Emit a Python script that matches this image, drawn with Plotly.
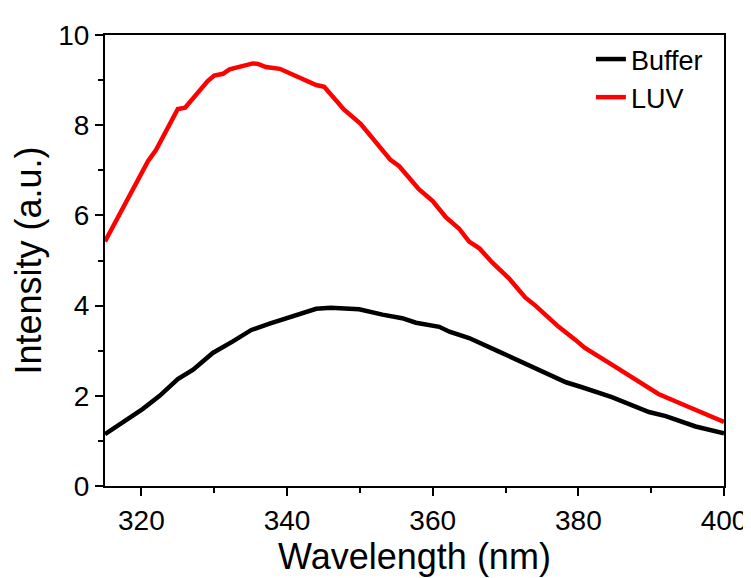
import plotly.graph_objects as go

# LUV (red) spectrum
luv_wl = [315.0, 318.8, 320.9, 322.0, 323.9, 325.0, 326.0, 328.0, 329.1, 330.0,
          331.2, 332.1, 333.9, 335.3, 336.0, 337.1, 339.0, 340.3, 342.1, 344.0,
          345.1, 346.2, 347.8, 350.1, 351.7, 353.1, 354.2, 355.4, 356.8, 358.1,
          360.0, 361.8, 363.6, 365.0, 366.4, 368.2, 370.5, 372.7, 374.1, 377.3,
          379.6, 380.9, 384.6, 388.7, 391.0, 394.6, 400.0]
luv_int = [5.42, 6.54, 7.20, 7.45, 8.00, 8.36, 8.39, 8.76, 8.98, 9.10,
           9.14, 9.24, 9.30, 9.37, 9.36, 9.29, 9.25, 9.16, 9.01, 8.89,
           8.85, 8.65, 8.35, 8.03, 7.71, 7.45, 7.23, 7.09, 6.83, 6.58,
           6.32, 5.96, 5.71, 5.42, 5.27, 4.95, 4.60, 4.18, 4.00, 3.53,
           3.24, 3.06, 2.69, 2.26, 2.04, 1.79, 1.42]

# Buffer (black) spectrum
buf_wl = [315.0, 317.5, 320.2, 322.5, 325.0, 327.1, 329.8, 332.5, 335.1, 337.6,
          340.3, 342.6, 344.0, 346.0, 349.9, 353.1, 355.8, 357.7, 360.9, 362.3,
          365.0, 369.1, 373.7, 378.3, 380.5, 384.6, 389.7, 392.0, 396.1, 400.0]
buf_int = [1.15, 1.42, 1.71, 2.00, 2.37, 2.58, 2.95, 3.20, 3.46, 3.60,
           3.75, 3.86, 3.93, 3.95, 3.92, 3.80, 3.72, 3.62, 3.53, 3.42,
           3.28, 2.98, 2.64, 2.30, 2.19, 1.97, 1.64, 1.55, 1.32, 1.17]

x_ticks = [320, 340, 360, 380, 400]
y_ticks = [0, 2, 4, 6, 8, 10]

FONT = "Arial, Liberation Sans, sans-serif"

fig = go.Figure()
fig.add_trace(go.Scatter(x=buf_wl, y=buf_int, mode="lines", name="Buffer",
                         line=dict(color="#000000", width=4.5)))
fig.add_trace(go.Scatter(x=luv_wl, y=luv_int, mode="lines", name="LUV",
                         line=dict(color="#ff0000", width=4.5)))

axis_common = dict(
    showline=True, linecolor="black", linewidth=2, mirror=True,
    ticks="outside", ticklen=8, tickwidth=2, tickcolor="black",
    showgrid=False, zeroline=False,
    tickfont=dict(family=FONT, size=28, color="black"),
)

fig.update_layout(
    width=751, height=578,
    margin=dict(l=97, r=34, t=19, b=100),
    paper_bgcolor="white", plot_bgcolor="white",
    font=dict(family=FONT, color="black"),
    showlegend=True,
    legend=dict(x=0.785, y=1.0, xanchor="left", yanchor="top",
                bgcolor="rgba(0,0,0,0)", borderwidth=0,
                font=dict(family=FONT, size=27, color="black"),
                tracegroupgap=0),
    xaxis=dict(range=[315, 400], tickvals=x_ticks,
               ticktext=[str(v) for v in x_ticks],
               minor=dict(ticks="outside", ticklen=5, tickwidth=2,
                          tickcolor="black", dtick=10, tick0=310),
               title=dict(text="Wavelength (nm)", standoff=6,
                          font=dict(family=FONT, size=36, color="black")),
               **axis_common),
    yaxis=dict(range=[0, 10], tickvals=y_ticks,
               ticktext=[str(v) for v in y_ticks],
               minor=dict(ticks="outside", ticklen=5, tickwidth=2,
                          tickcolor="black", dtick=1, tick0=0),
               title=dict(text="Intensity (a.u.)", standoff=6,
                          font=dict(family=FONT, size=36, color="black")),
               **axis_common),
)

fig.write_html("out.html")
